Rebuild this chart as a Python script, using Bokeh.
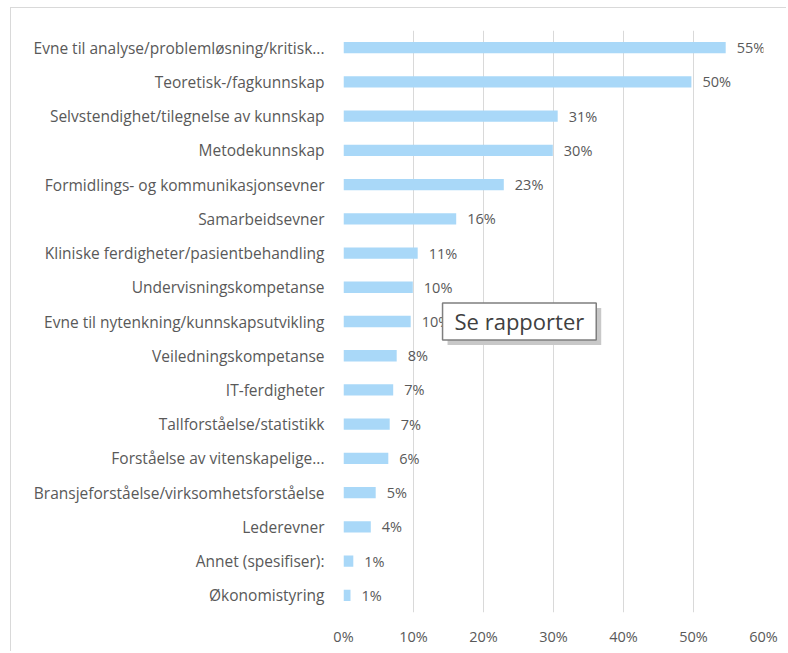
from bokeh.plotting import figure
from bokeh.models import Range1d, FixedTicker, PrintfTickFormatter, ColumnDataSource, Label
from bokeh.embed import file_html
from bokeh.resources import INLINE
from bokeh.core.properties import value

categories = [
    "Evne til analyse/problemløsning/kritisk...",
    "Teoretisk-/fagkunnskap",
    "Selvstendighet/tilegnelse av kunnskap",
    "Metodekunnskap",
    "Formidlings- og kommunikasjonsevner",
    "Samarbeidsevner",
    "Kliniske ferdigheter/pasientbehandling",
    "Undervisningskompetanse",
    "Evne til nytenkning/kunnskapsutvikling",
    "Veiledningskompetanse",
    "IT-ferdigheter",
    "Tallforståelse/statistikk",
    "Forståelse av vitenskapelige...",
    "Bransjeforståelse/virksomhetsforståelse",
    "Lederevner",
    "Annet (spesifiser):",
    "Økonomistyring",
]
values = [54.6, 49.7, 30.6, 29.9, 22.9, 16.1, 10.6, 9.9, 9.6, 7.6, 7.1, 6.6, 6.4, 4.6, 3.9, 1.4, 1.0]
labels = ["55%", "50%", "31%", "30%", "23%", "16%", "11%", "10%", "10%", "8%", "7%", "7%", "6%", "5%", "4%", "1%", "1%"]
x_ticks = [0, 10, 20, 30, 40, 50, 60]

FONT = "Open Sans"
GREY = "#595959"

src = ColumnDataSource(dict(cat=categories, val=values, lab=labels))
y_factors = list(reversed(categories))

p = figure(
    y_range=y_factors,
    x_range=Range1d(0, 60),
    width=776, height=644,
    output_backend="svg", toolbar_location=None,
    min_border_left=332, min_border_right=24, min_border_top=22, min_border_bottom=40,
    styles={"margin-left": "10px", "margin-top": "7px",
            "border-top": "1px solid #d9d9d9", "border-left": "1px solid #d9d9d9"},
)
p.outline_line_color = None
p.background_fill_color = "white"

p.hbar(y="cat", right="val", left=0, height=0.33, source=src,
       fill_color="#a9d8f8", line_color=None)
p.text(x="val", y="cat", text="lab", source=src, x_offset=11,
       text_align="left", text_baseline="middle", text_font=value(FONT),
       text_font_size="14.5px", text_color=GREY)

p.xaxis.ticker = FixedTicker(ticks=x_ticks)
p.xaxis.formatter = PrintfTickFormatter(format="%d%%")
p.xaxis.axis_line_color = None
p.xaxis.major_tick_line_color = None
p.xaxis.minor_tick_line_color = None
p.xaxis.major_label_standoff = 8
p.xaxis.major_label_text_font = FONT
p.xaxis.major_label_text_font_size = "14.5px"
p.xaxis.major_label_text_color = GREY

p.yaxis.axis_line_color = None
p.yaxis.major_tick_line_color = None
p.yaxis.minor_tick_line_color = None
p.yaxis.major_label_standoff = 13
p.yaxis.major_label_text_font = FONT
p.yaxis.major_label_text_font_size = "15.5px"
p.yaxis.major_label_text_color = GREY

p.ygrid.grid_line_color = None
p.xgrid.grid_line_color = "#d9d9d9"
p.xgrid.ticker = FixedTicker(ticks=x_ticks)

tip_cat = "Evne til nytenkning/kunnskapsutvikling"
tip_y = y_factors.index(tip_cat) + 0.5  # synthetic coordinate of that factor
pad = (12, 12, 3, 4)
shadow = Label(x=14.15, y=tip_y, x_offset=5, y_offset=-5, text="Se rapporter",
               text_font=FONT, text_font_size="22px", text_color="#c8c8c8",
               text_baseline="middle", text_align="left",
               background_fill_color="#c8c8c8", background_fill_alpha=1.0,
               padding=pad)
tip = Label(x=14.15, y=tip_y, text="Se rapporter",
            text_font=FONT, text_font_size="22px", text_color="#404040",
            text_baseline="middle", text_align="left",
            background_fill_color="white", border_line_color="#7f7f7f",
            border_line_width=1.5, padding=pad)
p.add_layout(shadow)
p.add_layout(tip)

open("out.html", "w").write(file_html(p, INLINE))
